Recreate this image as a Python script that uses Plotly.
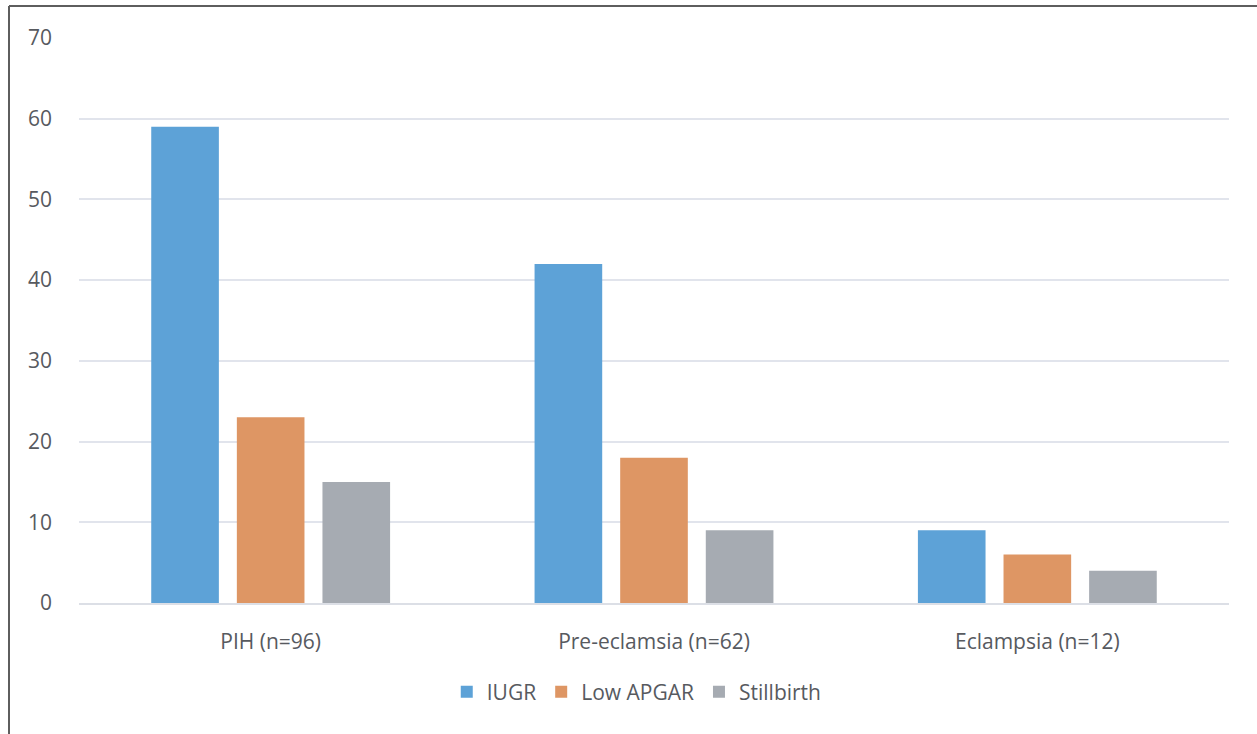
import plotly.graph_objects as go

categories = ["PIH (n=96)", "Pre-eclamsia (n=62)", "Eclampsia (n=12)"]
series_names = ["IUGR", "Low APGAR", "Stillbirth"]
iugr = [59, 42, 9]
low_apgar = [23, 18, 6]
stillbirth = [15, 9, 4]
y_ticks = [0, 10, 20, 30, 40, 50, 60, 70]

colors = ["#5DA2D7", "#DE9664", "#A6ABB2"]
text_color = "#575A5F"
font_family = "Open Sans, Lato, sans-serif"

fig = go.Figure()
for name, vals, col in zip(series_names, [iugr, low_apgar, stillbirth], colors):
    fig.add_trace(go.Bar(name=name, x=categories, y=vals, marker=dict(color=col, line=dict(width=0))))

W, H = 1257, 734
ml, mr, mt, mb = 79, 28, 38, 131
pw, ph = W - ml - mr, H - mt - mb

def px_x(x):
    return (x - ml) / pw

def px_y(y):
    return (H - mb - y) / ph

# outer frame: left and top edges
frame = dict(color="#5E5E5E", width=2)
shapes = [
    dict(type="line", xref="paper", yref="paper", x0=px_x(9), x1=px_x(9), y0=px_y(6), y1=px_y(760), line=frame),
    dict(type="line", xref="paper", yref="paper", x0=px_x(9), x1=px_x(1300), y0=px_y(6), y1=px_y(6), line=frame),
]

fig.update_layout(
    width=W, height=H,
    margin=dict(l=ml, r=mr, t=mt, b=mb, autoexpand=False),
    paper_bgcolor="white", plot_bgcolor="white",
    barmode="group", bargap=0.33, bargroupgap=0.21,
    font=dict(family=font_family, size=21, color=text_color),
    showlegend=True,
    legend=dict(orientation="h", x=0.485, xanchor="center", y=px_y(692), yanchor="middle",
                font=dict(size=21, color=text_color), itemwidth=30, traceorder="normal"),
    shapes=shapes,
    xaxis=dict(showgrid=False, showline=True, linecolor="#DCDFE6", linewidth=1.5,
               ticks="", ticklabelstandoff=19, zeroline=False),
    yaxis=dict(range=[0, 70], tickvals=y_ticks, showgrid=True, gridcolor="#E1E4EC", gridwidth=1.5,
               zeroline=False, showline=False, ticks="", ticklabelstandoff=26),
)

fig.write_html("out.html")
